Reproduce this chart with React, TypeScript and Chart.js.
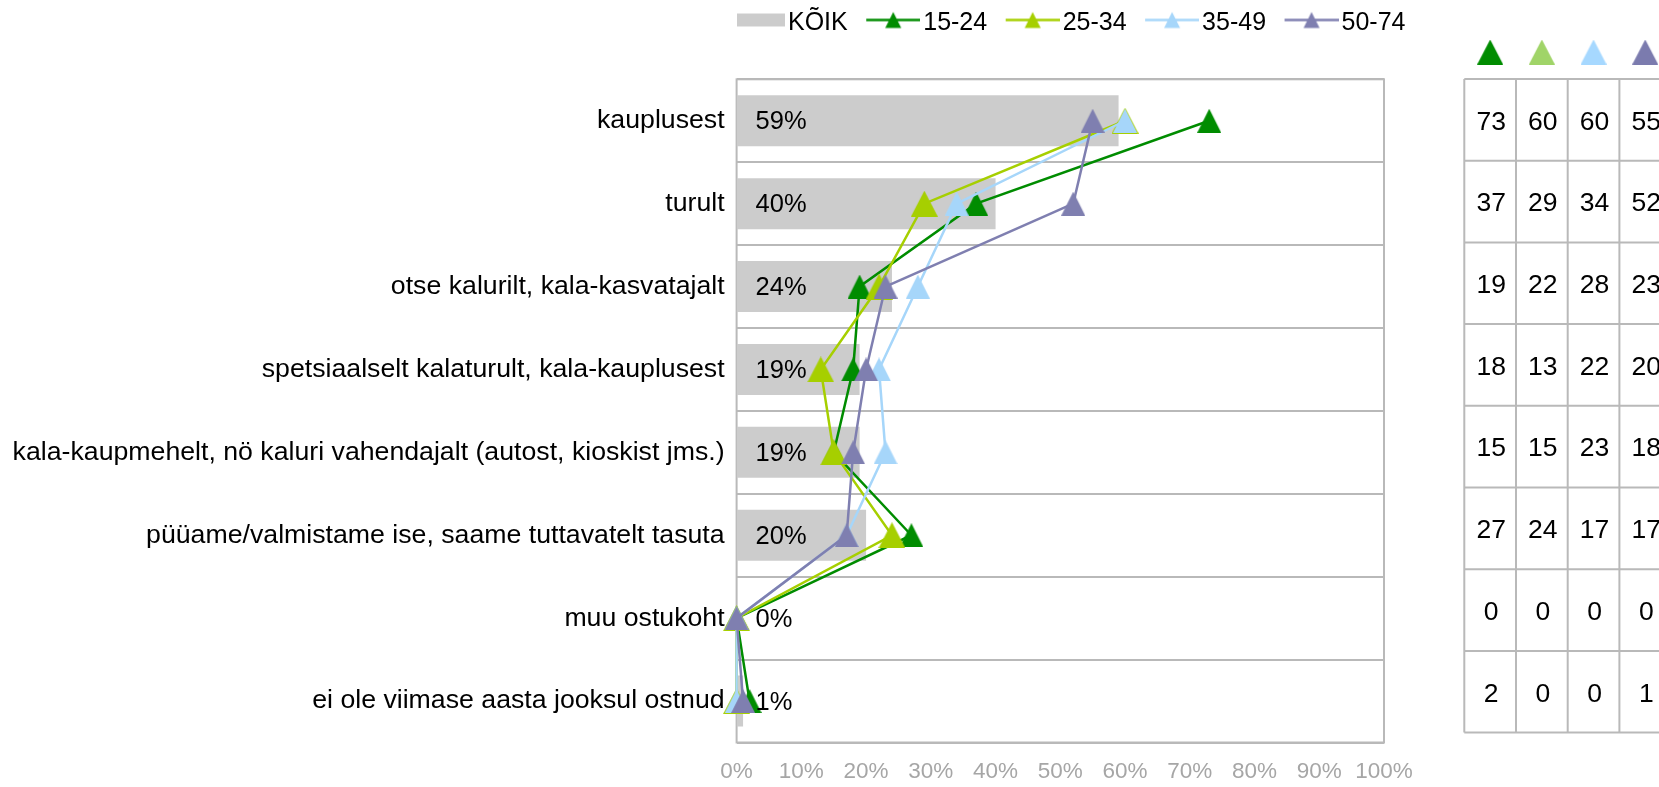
import { useEffect, useRef } from 'react';
import { Chart, registerables } from 'chart.js';

Chart.register(...registerables);

const categories = [
  'kauplusest',
  'turult',
  'otse kalurilt, kala-kasvatajalt',
  'spetsiaalselt kalaturult, kala-kauplusest',
  'kala-kaupmehelt, nö kaluri vahendajalt (autost, kioskist jms.)',
  'püüame/valmistame ise, saame tuttavatelt tasuta',
  'muu ostukoht',
  'ei ole viimase aasta jooksul ostnud',
];

const seriesNames = ['KÕIK', '15-24', '25-34', '35-49', '50-74'];

const koik = [59, 40, 24, 19, 19, 20, 0, 1];
const age15_24 = [73, 37, 19, 18, 15, 27, 0, 2];
const age25_34 = [60, 29, 22, 13, 15, 24, 0, 0];
const age35_49 = [60, 34, 28, 22, 23, 17, 0, 0];
const age50_74 = [55, 52, 23, 20, 18, 17, 0, 1];

const xTickValues = [0, 10, 20, 30, 40, 50, 60, 70, 80, 90, 100];

const FONT = "'Liberation Sans', Arial, Helvetica, sans-serif";
const BAR_COLOR = '#cccccc';
const LINE_COLORS = ['#008c00', '#a6cf00', '#a6d6fa', '#7f7fb0'];
const HEADER_COLORS = ['#008c00', '#a0d468', '#a6d8ff', '#7b7bae'];
const GRID_COLOR = '#b9b9b9';

function triangle(color: string, w: number, h: number): HTMLCanvasElement {
  const c = document.createElement('canvas');
  c.width = w;
  c.height = h;
  const ctx = c.getContext('2d')!;
  ctx.fillStyle = color;
  ctx.beginPath();
  ctx.moveTo(w / 2, 0);
  ctx.lineTo(w, h);
  ctx.lineTo(0, h);
  ctx.closePath();
  ctx.fill();
  return c;
}

// legend marker images: width 74, marker content occupies the right 54px
function legendLine(color: string): HTMLCanvasElement {
  const c = document.createElement('canvas');
  c.width = 74;
  c.height = 26;
  const ctx = c.getContext('2d')!;
  const cy = 9.5;
  ctx.strokeStyle = color;
  ctx.lineWidth = 2.5;
  ctx.beginPath();
  ctx.moveTo(20, cy);
  ctx.lineTo(74, cy);
  ctx.stroke();
  ctx.fillStyle = color;
  ctx.beginPath();
  ctx.moveTo(47, cy - 8);
  ctx.lineTo(55, cy + 8);
  ctx.lineTo(39, cy + 8);
  ctx.closePath();
  ctx.fill();
  return c;
}

function legendBar(color: string): HTMLCanvasElement {
  const c = document.createElement('canvas');
  c.width = 74;
  c.height = 26;
  const ctx = c.getContext('2d')!;
  ctx.fillStyle = color;
  ctx.fillRect(26, 3, 48, 13);
  return c;
}

export default function App() {
  const ref = useRef<HTMLCanvasElement>(null);

  useEffect(() => {
    document.body.style.margin = '0';
    const canvas = ref.current!;

    const lineSeries = [age15_24, age25_34, age35_49, age50_74];
    const pointImgs = [
      triangle(LINE_COLORS[0], 24, 24),
      triangle(LINE_COLORS[1], 27, 26),
      triangle(LINE_COLORS[2], 24, 24),
      triangle(LINE_COLORS[3], 24, 24),
    ];
    const legendImgs = [legendBar(BAR_COLOR), ...LINE_COLORS.map(legendLine)];
    const headerImgs = HEADER_COLORS.map((c) => triangle(c, 26, 25));

    const layoutPlugin = {
      id: 'layoutTweaks',
      beforeInit(chart: any) {
        const legend = chart.legend;
        if (legend) {
          const fit = legend.fit;
          legend.fit = function () {
            fit.call(this);
            this.height = 76.3;
          };
        }
      },
      afterLayout(chart: any) {
        if (chart.legend) {
          chart.legend.left = 712.5;
          chart.legend.right = 1659;
        }
      },
    };

    const framePlugin = {
      id: 'frame',
      beforeDatasetsDraw(chart: any) {
        const { ctx, chartArea: a } = chart;
        ctx.save();
        ctx.strokeStyle = GRID_COLOR;
        ctx.lineWidth = 2;
        ctx.strokeRect(a.left, a.top, a.right - a.left, a.bottom - a.top);
        ctx.restore();
      },
    };

    const barLabelPlugin = {
      id: 'barLabels',
      afterDatasetsDraw(chart: any) {
        const { ctx, chartArea } = chart;
        const meta = chart.getDatasetMeta(0);
        ctx.save();
        ctx.font = `25.5px ${FONT}`;
        ctx.fillStyle = '#000';
        ctx.textAlign = 'left';
        ctx.textBaseline = 'middle';
        meta.data.forEach((el: any, i: number) => {
          ctx.fillText(`${koik[i]}%`, chartArea.left + 19, el.y + 1.5);
        });
        ctx.restore();
      },
    };

    const tablePlugin = {
      id: 'sideTable',
      afterDraw(chart: any) {
        const { ctx } = chart;
        const left = 1464.3;
        const colW = 51.7;
        const top = 79;
        const rowH = 81.7;
        const nCols = lineSeries.length;
        const nRows = categories.length;
        ctx.save();
        headerImgs.forEach((img, c) => {
          const cx = left + colW * (c + 0.5);
          ctx.drawImage(img, cx - img.width / 2, 52 - img.height / 2);
        });
        ctx.strokeStyle = GRID_COLOR;
        ctx.lineWidth = 2;
        ctx.beginPath();
        for (let r = 0; r <= nRows; r++) {
          const y = top + r * rowH;
          ctx.moveTo(left, y);
          ctx.lineTo(left + colW * nCols, y);
        }
        for (let c = 0; c <= nCols; c++) {
          const x = left + c * colW;
          ctx.moveTo(x, top);
          ctx.lineTo(x, top + nRows * rowH);
        }
        ctx.stroke();
        ctx.font = `26.5px ${FONT}`;
        ctx.fillStyle = '#000';
        ctx.textAlign = 'center';
        ctx.textBaseline = 'middle';
        for (let c = 0; c < nCols; c++) {
          for (let r = 0; r < nRows; r++) {
            ctx.fillText(
              String(lineSeries[c][r]),
              left + colW * (c + 0.5) + 1,
              top + rowH * (r + 0.5) + 2.5
            );
          }
        }
        ctx.restore();
      },
    };

    const lineDatasets = lineSeries.map((data, i) => ({
      type: 'line' as const,
      label: seriesNames[i + 1],
      data,
      borderColor: LINE_COLORS[i],
      backgroundColor: LINE_COLORS[i],
      borderWidth: 2.5,
      tension: 0,
      pointStyle: pointImgs[i],
      pointRadius: 12,
      pointHoverRadius: 12,
      clip: false as any,
      order: 4 - i,
    }));

    const chart = new Chart(canvas, {
      type: 'bar',
      data: {
        labels: categories,
        datasets: [
          {
            type: 'bar' as const,
            label: seriesNames[0],
            data: koik,
            backgroundColor: BAR_COLOR,
            borderWidth: 0,
            barPercentage: 0.615,
            categoryPercentage: 1,
            order: 10,
          },
          ...lineDatasets,
        ] as any,
      },
      options: {
        indexAxis: 'y',
        responsive: false,
        animation: false,
        events: [],
        layout: { padding: { top: 3, right: 275, bottom: 0, left: 0 } },
        scales: {
          x: {
            type: 'linear',
            min: 0,
            max: 100,
            afterBuildTicks: (scale: any) => {
              scale.ticks = xTickValues.map((v) => ({ value: v }));
            },
            ticks: {
              callback: (v: any) => `${v}%`,
              color: '#a6a6a6',
              font: { size: 22.5, family: FONT },
              padding: 16,
              maxRotation: 0,
              autoSkip: false,
            },
            grid: { display: false, drawTicks: false },
            border: { display: false },
            afterFit: (scale: any) => {
              scale.height = 44.5;
            },
          },
          y: {
            type: 'category',
            ticks: {
              color: '#000',
              font: { size: 26.7, family: FONT },
              padding: 12,
              autoSkip: false,
            },
            grid: {
              display: true,
              color: GRID_COLOR,
              lineWidth: 2,
              drawTicks: false,
              offset: true,
            },
            border: { display: false },
            afterFit: (scale: any) => {
              scale.width = 736.6;
            },
          },
        },
        plugins: {
          tooltip: { enabled: false },
          title: { display: false },
          legend: {
            display: true,
            position: 'top',
            align: 'start',
            fullSize: true,
            labels: {
              usePointStyle: true,
              pointStyleWidth: 55,
              boxHeight: 25,
              padding: 8,
              color: '#000',
              font: { size: 25, family: FONT },
              generateLabels: () =>
                seriesNames.map((name, i) => ({
                  text: name,
                  pointStyle: legendImgs[i],
                  fillStyle: 'rgba(0,0,0,0)',
                  strokeStyle: 'rgba(0,0,0,0)',
                  lineWidth: 0,
                  hidden: false,
                  datasetIndex: i,
                  fontColor: '#000',
                })) as any,
            },
          },
        },
      } as any,
      plugins: [layoutPlugin, framePlugin, barLabelPlugin, tablePlugin],
    });

    return () => chart.destroy();
  }, []);

  return (
    <div style={{ width: 1659, height: 787, overflow: 'hidden' }}>
      <canvas ref={ref} width={1659} height={787} style={{ display: 'block' }} />
    </div>
  );
}
